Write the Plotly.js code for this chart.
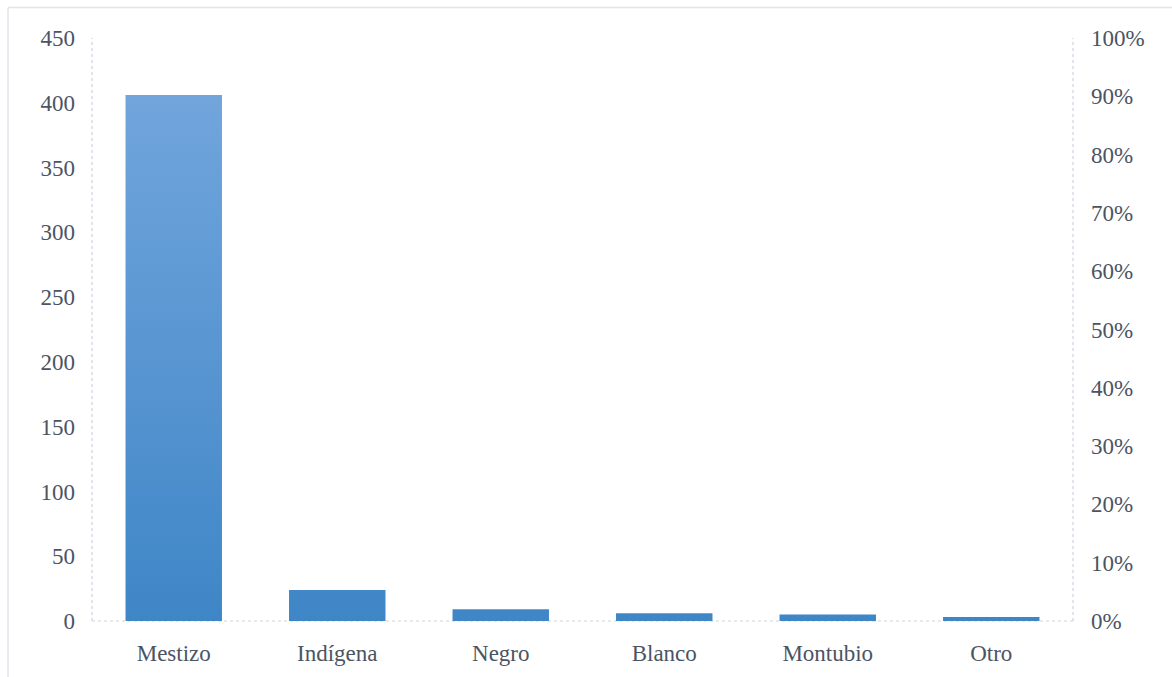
<!DOCTYPE html>
<html>
<head>
<meta charset="utf-8">
<script src="https://cdn.plot.ly/plotly-3.0.1.min.js"></script>
<style>
html,body{margin:0;padding:0;background:#fff;}
#chart{width:1172px;height:677px;}
</style>
</head>
<body>
<div id="chart"></div>
<script>
const categories = ["Mestizo", "Indígena", "Negro", "Blanco", "Montubio", "Otro"];
const counts = [406, 24, 9, 6, 5, 3];
const pctRange = [0, 1];

const fontFam = "'Liberation Serif', 'Times New Roman', serif";
const txtColor = "#4b5463";

const traces = [
  {
    type: "bar",
    x: categories,
    y: counts,
    marker: {color: "#4a8cce", line: {width: 0}},
    hoverinfo: "x+y",
    showlegend: false
  },
  {
    type: "scatter",
    x: categories,
    y: categories.map(() => null),
    yaxis: "y2",
    mode: "lines",
    hoverinfo: "skip",
    showlegend: false
  }
];

const axLine = {color: "#cdd3dc", width: 1.2, dash: "dot"};
const layout = {
  width: 1172,
  height: 677,
  margin: {l: 92, r: 99, t: 38, b: 56},
  paper_bgcolor: "#ffffff",
  plot_bgcolor: "#ffffff",
  bargap: 0.41,
  font: {family: fontFam, size: 23, color: txtColor},
  xaxis: {
    type: "category",
    showgrid: false,
    zeroline: false,
    showline: false,
    ticks: "",
    ticklabelstandoff: 16,
    tickfont: {family: fontFam, size: 23, color: txtColor}
  },
  yaxis: {
    range: [0, 450],
    dtick: 50,
    showgrid: false,
    zeroline: false,
    showline: false,
    ticks: "",
    ticklabelstandoff: 16,
    tickfont: {family: fontFam, size: 23, color: txtColor}
  },
  yaxis2: {
    overlaying: "y",
    side: "right",
    range: pctRange,
    dtick: 0.1,
    tickformat: ".0%",
    showgrid: false,
    zeroline: false,
    showline: false,
    ticks: "",
    ticklabelstandoff: 17,
    tickfont: {family: fontFam, size: 23, color: txtColor}
  },
  shapes: [
    {type: "line", xref: "paper", yref: "paper", x0: 0, x1: 0, y0: 0, y1: 1, line: axLine, layer: "below"},
    {type: "line", xref: "paper", yref: "paper", x0: 1, x1: 1, y0: 0, y1: 1, line: axLine, layer: "below"},
    {type: "line", xref: "paper", yref: "paper", x0: 0, x1: 1, y0: 0, y1: 0, line: axLine, layer: "below"},
    {type: "line", xref: "paper", yref: "paper", x0: -0.0856, x1: 1.2, y0: 1.0524, y1: 1.0524, line: {color: "#dfe4eb", width: 1.5}},
    {type: "line", xref: "paper", yref: "paper", x0: -0.0856, x1: -0.0856, y0: -0.2, y1: 1.0524, line: {color: "#dfe4eb", width: 1.5}}
  ]
};

const gd = document.getElementById("chart");
function applyGradient() {
  const svg = gd.querySelector("svg.main-svg");
  if (!svg) return;
  const ns = "http://www.w3.org/2000/svg";
  let defs = svg.querySelector("defs");
  if (!defs) { defs = document.createElementNS(ns, "defs"); svg.insertBefore(defs, svg.firstChild); }
  if (!svg.querySelector("#barGrad")) {
    const g = document.createElementNS(ns, "linearGradient");
    g.setAttribute("id", "barGrad");
    g.setAttribute("gradientUnits", "userSpaceOnUse");
    g.setAttribute("x1", "0"); g.setAttribute("x2", "0");
    g.setAttribute("y1", "0"); g.setAttribute("y2", "582");
    const s1 = document.createElementNS(ns, "stop");
    s1.setAttribute("offset", "0.1"); s1.setAttribute("stop-color", "#71a5dc");
    const s2 = document.createElementNS(ns, "stop");
    s2.setAttribute("offset", "1"); s2.setAttribute("stop-color", "#3f86c7");
    g.appendChild(s1); g.appendChild(s2); defs.appendChild(g);
  }
  gd.querySelectorAll(".barlayer .point path").forEach(p => {
    p.style.fill = "url(#barGrad)";
  });
}
Plotly.newPlot(gd, traces, layout, {displayModeBar: false, staticPlot: true}).then(applyGradient);
</script>
</body>
</html>
